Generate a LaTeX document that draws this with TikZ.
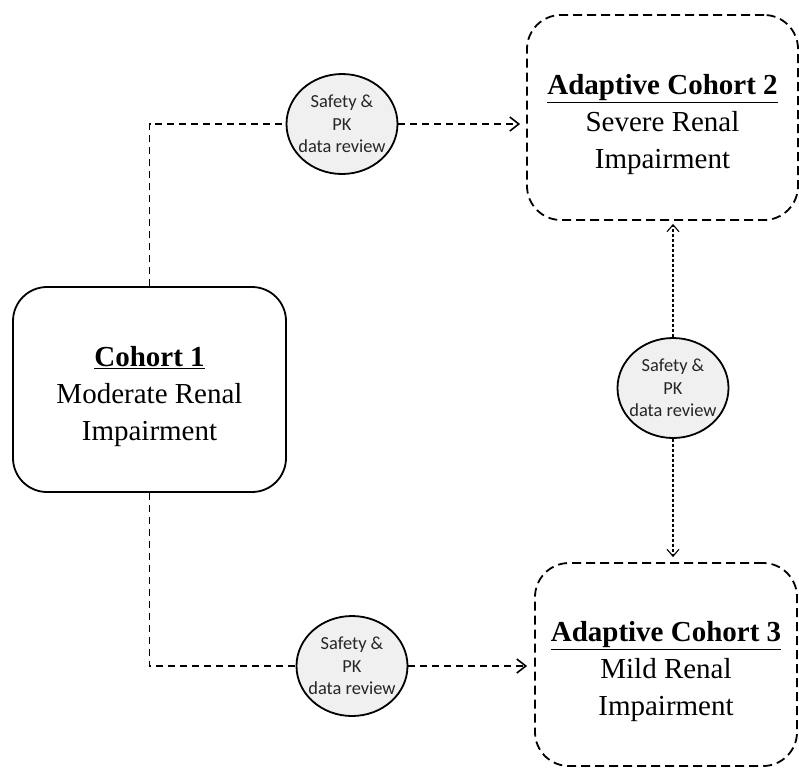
\documentclass[tikz,border=0pt]{standalone}
\usepackage{fontspec}
\setmainfont{Liberation Serif}
\newfontfamily\reviewfont{Carlito}
\usetikzlibrary{shapes.geometric,arrows.meta}
\newcommand{\toplift}{\rule{0pt}{34pt}}

\begin{document}
\begin{tikzpicture}[x=1pt, y=-1pt,
  cohort/.style={draw, line width=1.8pt, rounded corners=34pt, align=center,
    font=\fontsize{29}{37}\selectfont},
  adaptive/.style={cohort, dash pattern=on 9pt off 5pt},
  review/.style={ellipse, draw, line width=1.8pt, fill=gray!12, minimum width=111pt,
    minimum height=100pt, inner xsep=-5pt, inner ysep=0pt, align=center, text=black!85,
    font=\reviewfont\fontsize{18.4}{22.5}\selectfont},
  link/.style={line width=1.6pt, dash pattern=on 7pt off 5pt},
  tip/.style={-{Straight Barb[length=9pt,width=14pt]}},
]
\useasboundingbox (0,0) rectangle (799,769);

% cohorts
\node[cohort, minimum width=273pt, minimum height=205pt] (c1) at (149.5,389.5)
  {\toplift\underline{\textbf{Cohort 1}}\\Moderate Renal\\Impairment};
\node[adaptive, minimum width=271pt, minimum height=205pt] (c2) at (662.5,117.5)
  {\toplift\underline{\textbf{Adaptive Cohort 2}}\\Severe Renal\\Impairment};
\node[adaptive, minimum width=262pt, minimum height=203pt] (c3) at (666,664.5)
  {\toplift\underline{\textbf{Adaptive Cohort 3}}\\Mild Renal\\Impairment};

% reviews
\node[review] (rev1) at (342,124) {Safety \&\\PK\\data review};
\node[review] (rev2) at (673,388) {Safety \&\\PK\\data review};
\node[review] (rev3) at (352,666) {Safety \&\\PK\\data review};

% cohort 1 -> 2 and 3
\draw[link] (c1.north) |- (rev1.west);
\draw[link, tip, shorten >=6pt] (rev1.east) -- (rev1.east -| c2.west);
\draw[link] (c1.south) |- (rev3.west);
\draw[link, tip, shorten >=7pt] (rev3.east) -- (rev3.east -| c3.west);

% between 2 and 3
\draw[line width=1.1pt, dash pattern=on 3pt off 2pt, -{Straight Barb[length=7pt,width=12pt,line width=1.1pt]}, shorten >=3pt]
  (rev2.north) -- (rev2.north |- c2.south);
\draw[line width=1.1pt, dash pattern=on 3pt off 2pt, -{Straight Barb[length=7pt,width=12pt,line width=1.1pt]}, shorten >=5pt]
  (rev2.south) -- (rev2.south |- c3.north);

\end{tikzpicture}
\end{document}
